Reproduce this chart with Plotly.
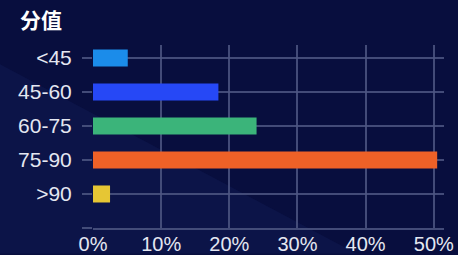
import plotly.graph_objects as go

categories = ["<45", "45-60", "60-75", "75-90", ">90"]
values = [5.1, 18.4, 24.0, 50.5, 2.5]
colors = ["#1b8cea", "#2648f6", "#3bb47a", "#ef6127", "#e6c634"]
x_ticks = [0, 10, 20, 30, 40, 50]
x_tick_text = ["0%", "10%", "20%", "30%", "40%", "50%"]
title_text = "分值"

positions = list(range(len(categories)))
grid = "rgba(78,86,130,0.85)"
label_font = dict(family="Liberation Sans, Arial, sans-serif", size=21, color="#e4e7f1")

fig = go.Figure()
fig.add_trace(go.Bar(
    y=positions, x=values, orientation="h",
    marker=dict(color=colors, line=dict(width=0)),
    width=0.5, hoverinfo="skip",
))

fig.update_layout(
    template="none",
    width=458, height=255,
    margin=dict(l=93, r=14, t=45, b=26.5, pad=0),
    paper_bgcolor="#080e3e", plot_bgcolor="rgba(0,0,0,0)",
    showlegend=False,
    title=dict(text="<b>" + title_text + "</b>", x=20 / 458, xref="container", xanchor="left",
               y=1 - 21 / 255, yref="container", yanchor="middle",
               font=dict(family="Noto Sans CJK SC", size=21, color="#ffffff")),
    shapes=[dict(type="path", xref="paper", yref="paper", layer="below",
                 path="M -0.27 0.9 L 0.75 -0.14 L -0.27 -0.14 Z",
                 fillcolor="rgba(45,65,150,0.12)", line=dict(width=0))],
)
fig.update_xaxes(
    range=[0, 51.5], tickvals=x_ticks, ticktext=x_tick_text, automargin=False,
    showgrid=True, gridcolor=grid, gridwidth=1.5, zeroline=False,
    showline=True, linecolor=grid, linewidth=1.5,
    ticks="", tickfont=dict(label_font, size=20), ticklabelstandoff=-3,
    fixedrange=True,
)
fig.update_yaxes(
    range=[5.0, -0.38], automargin=False,
    tickvals=positions + [len(categories)], ticktext=categories + [""],
    showgrid=True, gridcolor=grid, gridwidth=1.5, zeroline=False, showline=False,
    ticks="outside", ticklen=10, tickcolor=grid, tickwidth=1.5,
    tickfont=label_font, ticklabelstandoff=6, fixedrange=True,
)
fig.write_html(
    "out.html",
    config={"displayModeBar": False},
    post_script="document.body.style.margin='0';document.body.style.background='#080e3e';",
)
